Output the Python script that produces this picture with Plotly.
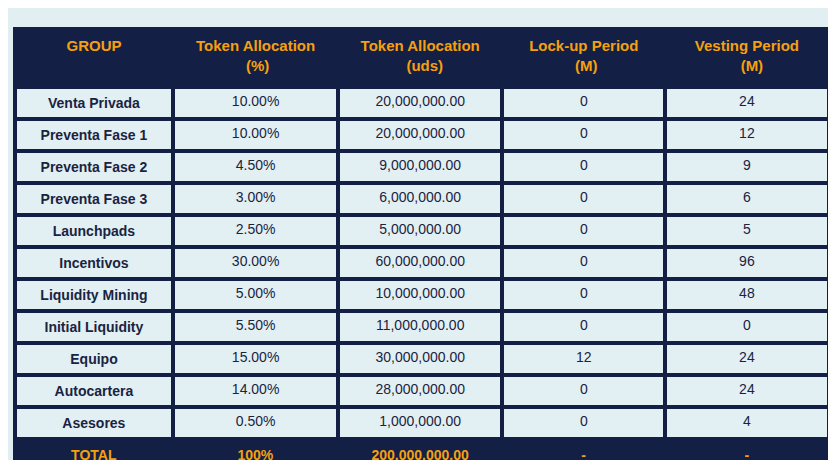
import plotly.graph_objects as go

headers = ["GROUP", "Token Allocation<br>(%)", "Token Allocation<br>(uds)", "Lock-up Period<br>(M)", "Vesting Period<br>(M)"]
groups = ["Venta Privada", "Preventa Fase 1", "Preventa Fase 2", "Preventa Fase 3", "Launchpads",
          "Incentivos", "Liquidity Mining", "Initial Liquidity", "Equipo", "Autocartera", "Asesores"]
pct = ["10.00%", "10.00%", "4.50%", "3.00%", "2.50%", "30.00%", "5.00%", "5.50%", "15.00%", "14.00%", "0.50%"]
uds = ["20,000,000.00", "20,000,000.00", "9,000,000.00", "6,000,000.00", "5,000,000.00", "60,000,000.00",
       "10,000,000.00", "11,000,000.00", "30,000,000.00", "28,000,000.00", "1,000,000.00"]
lockup = ["0", "0", "0", "0", "0", "0", "0", "0", "12", "0", "0"]
vesting = ["24", "12", "9", "6", "5", "96", "48", "0", "24", "24", "4"]
total = ["TOTAL", "100%", "200,000,000.00", "-", "-"]

NAVY = "#131f45"
ORANGE = "#f5a00f"
CELL = "#e2f0f4"
NB = "\u00a0"

hdr_vals = ["<br><b>GROUP</b>",
            "<b>Token Allocation</b><br>" + NB * 12 + "<b>(%)</b>",
            "<b>Token Allocation</b><br>" + NB * 11 + "<b>(uds)</b>",
            "<b>Lock-up Period</b><br>" + NB * 11 + "<b>(M)</b>",
            "<b>Vesting Period</b><br>" + NB * 11 + "<b>(M)</b>"]

cols = [groups, pct, uds, lockup, vesting]
values = []
for i, c in enumerate(cols):
    vals = [f"<b>{v}</b>" if i == 0 else v for v in c]
    vals.append(f"<b>{total[i]}</b>")
    values.append(vals)

n = len(groups)
fill = [[CELL] * n + [NAVY] for _ in cols]
fcol = [["#1a2340"] * n + [ORANGE] for _ in cols]

fig = go.Figure(go.Table(
    domain=dict(x=[0.008, 0.982], y=[0.0, 1 - 21/460]),
    columnwidth=[159, 165, 165, 163, 164],
    header=dict(values=hdr_vals, fill_color=NAVY, line=dict(color=NAVY, width=4),
                font=dict(color=ORANGE, size=15, family="Liberation Sans"), align="center", height=58),
    cells=dict(values=values, fill_color=fill, line=dict(color=NAVY, width=4),
               font=dict(color=fcol, size=14, family="Liberation Sans"), align="center", height=28),
))
fig.update_layout(width=836, height=460, margin=dict(l=0, r=0, t=0, b=0),
                  paper_bgcolor="#e1eff3")
fig.write_html("out.html")
